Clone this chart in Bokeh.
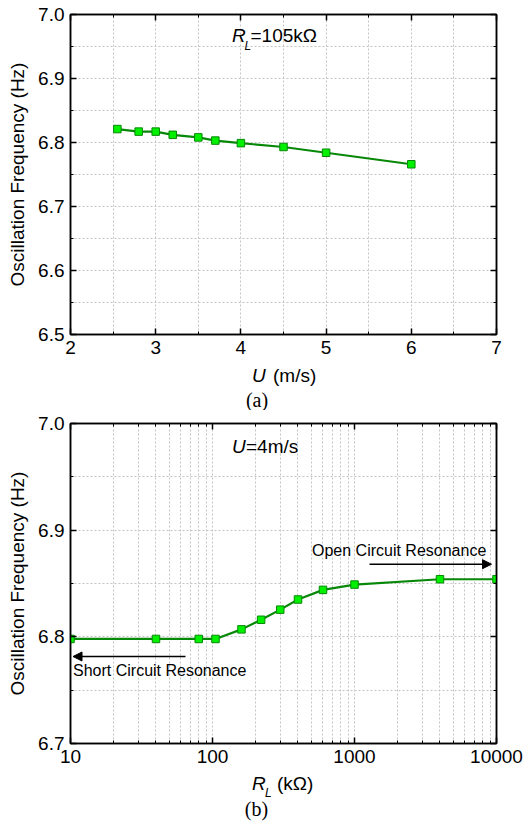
from bokeh.plotting import figure
from bokeh.models import (Range1d, FixedTicker, LinearAxis, LogAxis, PrintfTickFormatter,
                          CustomJSTickFormatter, Label, Arrow, NormalHead)
from bokeh.layouts import column
from bokeh.embed import file_html
from bokeh.resources import INLINE

# ---------------- data ----------------
# (a) oscillation frequency vs wind speed, R_L = 105 kOhm
u_speed = [2.55, 2.8, 3.0, 3.2, 3.5, 3.7, 4.0, 4.5, 5.0, 6.0]
freq_u = [6.821, 6.817, 6.817, 6.812, 6.808, 6.803, 6.799, 6.793, 6.784, 6.766]

# (b) oscillation frequency vs load resistance, U = 4 m/s
r_load = [10, 40, 80, 105, 160, 220, 300, 400, 600, 1000, 4000, 10000]
freq_r = [6.798, 6.798, 6.798, 6.798, 6.807, 6.816, 6.8255, 6.835, 6.844, 6.849, 6.854, 6.854]

# ticks
a_xticks = [2, 3, 4, 5, 6, 7]
a_xminor = [2.5, 3.5, 4.5, 5.5, 6.5]
a_yticks = [6.5, 6.6, 6.7, 6.8, 6.9, 7.0]
a_yminor = [6.55, 6.65, 6.75, 6.85, 6.95]
b_xticks = [10, 100, 1000, 10000]
b_xminor = [m * d for d in (10, 100, 1000) for m in range(2, 10)]
b_yticks = [6.7, 6.8, 6.9, 7.0]
b_yminor = [6.75, 6.85, 6.95]

SANS = "Liberation Sans"
SERIF = "Liberation Serif"
LINE_C = "#088808"
FILL_C = "#00f000"
GRID_C = "#c4c4c4"

W = 524
LEFT, RIGHT = 70, 28
FW = W - LEFT - RIGHT   # 426
FH = 320
BOT = 30                 # space for tick labels under each frame


def style(p, xt, xm, yt, ym, log=False):
    p.outline_line_color = "black"
    p.outline_line_width = 1.5
    p.xaxis.ticker = FixedTicker(ticks=xt, minor_ticks=xm)
    p.yaxis.ticker = FixedTicker(ticks=yt, minor_ticks=ym)
    p.xaxis.formatter = PrintfTickFormatter(format="%d")
    p.yaxis.formatter = PrintfTickFormatter(format="%.1f")
    for ax in (p.xaxis, p.yaxis):
        ax.axis_line_width = 1.5
        ax.axis_line_color = "black"
        ax.major_tick_in = 6
        ax.major_tick_out = 0
        ax.minor_tick_in = 3
        ax.minor_tick_out = 0
        ax.major_tick_line_width = 1.5
        ax.minor_tick_line_width = 1
        ax.major_label_text_font = SANS
        ax.major_label_text_font_size = "19px"
        ax.major_label_text_color = "black"
    p.xaxis.major_label_standoff = 6
    p.yaxis.major_label_standoff = 6
    p.yaxis.axis_label = "Oscillation Frequency (Hz)"
    p.yaxis.axis_label_text_font = SANS
    p.yaxis.axis_label_text_font_size = "19px"
    p.yaxis.axis_label_text_font_style = "normal"
    p.yaxis.axis_label_text_color = "black"
    p.yaxis.axis_label_standoff = 7
    for g in (p.xgrid, p.ygrid):
        g.grid_line_color = GRID_C
        g.grid_line_dash = "2 2"
        g.grid_line_width = 1
        g.minor_grid_line_color = GRID_C
        g.minor_grid_line_dash = "2 2"
        g.minor_grid_line_width = 1
    # mirror ticks on top / right
    blank = CustomJSTickFormatter(code="return ''")
    top = (LogAxis if log else LinearAxis)(ticker=FixedTicker(ticks=xt, minor_ticks=xm), formatter=blank)
    right = LinearAxis(ticker=FixedTicker(ticks=yt, minor_ticks=ym), formatter=blank)
    for ax in (top, right):
        ax.axis_line_width = 1.5
        ax.major_tick_in = 6
        ax.major_tick_out = 0
        ax.minor_tick_in = 3
        ax.minor_tick_out = 0
        ax.major_tick_line_width = 1.5
        ax.major_label_standoff = 0
        ax.major_label_text_font_size = "1px"
    p.add_layout(top, "above")
    p.add_layout(right, "right")


def lab(p, x, y, text, size="19px", font=SANS, style_="normal", align="left"):
    p.add_layout(Label(x=x, y=y, text=text, text_font=font, text_font_size=size,
                       text_font_style=style_, text_align=align, text_baseline="middle",
                       text_color="black"))


def caption_fig(h):
    # strip below a panel; its coordinates are page pixels (x) and pixels from its top (y)
    c = figure(width=W, height=h, x_range=Range1d(LEFT, W - RIGHT), y_range=Range1d(h, 0),
               output_backend="svg", toolbar_location=None,
               x_axis_location=None, y_axis_location=None,
               min_border_left=LEFT, min_border_right=RIGHT, min_border_top=0, min_border_bottom=0)
    c.outline_line_color = None
    c.grid.visible = False
    return c


# ---------------- panel (a) ----------------
A_TOP = 14
A_H = A_TOP + FH + BOT          # 364
p1 = figure(width=W, height=A_H, x_range=Range1d(2, 7), y_range=Range1d(6.5, 7.0),
            output_backend="svg", toolbar_location=None,
            min_border_left=LEFT, min_border_right=RIGHT,
            min_border_top=A_TOP, min_border_bottom=BOT)
style(p1, a_xticks, a_xminor, a_yticks, a_yminor)
p1.line(u_speed, freq_u, line_color=LINE_C, line_width=2.2)
p1.scatter(u_speed, freq_u, marker="square", size=7.5, fill_color=FILL_C,
           line_color=LINE_C, line_width=1)


def ax_(px):
    return 2 + (px - LEFT) / FW * 5


def ay_(py):
    return 7.0 - (py - A_TOP) / FH * 0.5


lab(p1, ax_(231.5), ay_(35), "R", style_="italic")
lab(p1, ax_(244), ay_(45), "L", size="12px", style_="italic")
lab(p1, ax_(250), ay_(35), "=105k\u03a9")

C1_Y0 = A_H
C1_H = 410 - A_H
c1 = caption_fig(C1_H)
lab(c1, 251.5, 375 - C1_Y0, "U", style_="italic")
lab(c1, 272.5, 375 - C1_Y0, "(m/s)")
lab(c1, 256.5, 399.5 - C1_Y0, "(a)", size="20px", font=SERIF, align="center")

# ---------------- panel (b) ----------------
B_Y0 = 410
B_TOP = 13
B_H = B_TOP + FH + BOT
p2 = figure(width=W, height=B_H, x_axis_type="log",
            x_range=Range1d(10, 10000), y_range=Range1d(6.7, 7.0),
            output_backend="svg", toolbar_location=None,
            min_border_left=LEFT, min_border_right=RIGHT,
            min_border_top=B_TOP, min_border_bottom=BOT)
style(p2, b_xticks, b_xminor, b_yticks, b_yminor, log=True)
p2.line(r_load, freq_r, line_color=LINE_C, line_width=2.2)
p2.scatter(r_load, freq_r, marker="square", size=7.5, fill_color=FILL_C,
           line_color=LINE_C, line_width=1)


def bx_(px):
    return 10 ** (1 + (px - LEFT) / FW * 3)


def by_(py):
    return 7.0 - (py - (B_Y0 + B_TOP)) / FH * 0.3


lab(p2, bx_(231.5), by_(446), "U", style_="italic")
lab(p2, bx_(245.5), by_(446), "=4m/s")
lab(p2, bx_(311.5), by_(550), "Open Circuit Resonance", size="16px")
lab(p2, bx_(72.5), by_(670), "Short Circuit Resonance", size="16px")
p2.add_layout(Arrow(x_start=bx_(369), y_start=by_(563.7), x_end=bx_(491), y_end=by_(563.7),
                    line_color="black", line_width=1.5,
                    end=NormalHead(size=9, fill_color="black", line_color="black", line_width=1)))
p2.add_layout(Arrow(x_start=bx_(185), y_start=by_(656), x_end=bx_(72.5), y_end=by_(656),
                    line_color="black", line_width=1.5,
                    end=NormalHead(size=9, fill_color="black", line_color="black", line_width=1)))

C2_Y0 = B_Y0 + B_H
C2_H = 825 - C2_Y0
c2 = caption_fig(C2_H)
lab(c2, 251.5, 782.5 - C2_Y0, "R", style_="italic")
lab(c2, 264.5, 792.5 - C2_Y0, "L", size="12px", style_="italic")
lab(c2, 276.5, 782.5 - C2_Y0, "(k\u03a9)")
lab(c2, 256, 808 - C2_Y0, "(b)", size="20px", font=SERIF, align="center")

layout = column(p1, c1, p2, c2, spacing=0)
open("out.html", "w").write(file_html(layout, INLINE))
